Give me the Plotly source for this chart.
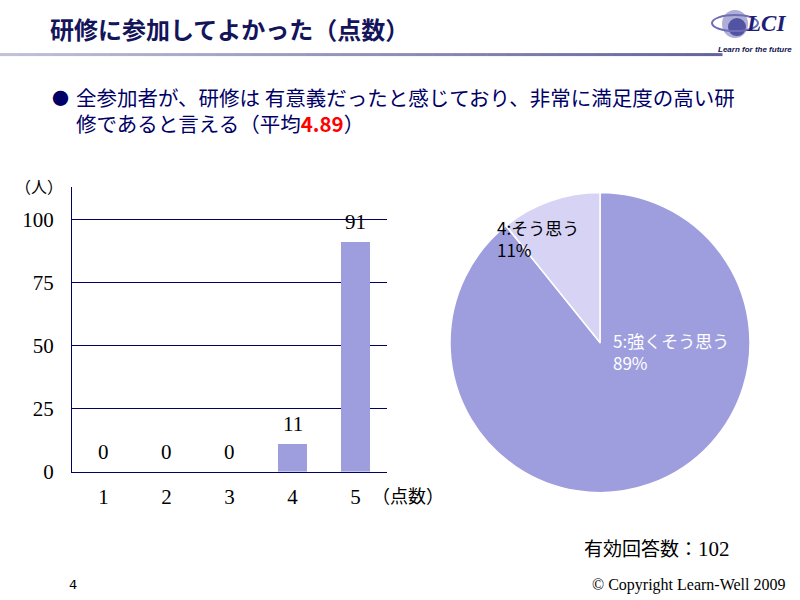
import plotly.graph_objects as go

# ---- data ----
scores = [1, 2, 3, 4, 5]
counts = [0, 0, 0, 11, 91]
y_ticks = [0, 25, 50, 75, 100]
pie_labels = ["5:強くそう思う", "4:そう思う"]
pie_values = [91, 11]
total_responses = 102
average_score = 4.89

W, H = 800, 600
HR = 587  # effective rendered height observed in the viewer

def px(x):
    return x / W
def py(y):
    return 1 - y / HR

NAVY = "#000066"
BAR = "#9E9EDE"
LIGHT = "#D6D3F4"
JP = "Noto Sans CJK JP"
SERIF = "Liberation Serif"

fig = go.Figure()

# bar chart
fig.add_trace(go.Bar(
    x=scores, y=counts, marker=dict(color=BAR, line=dict(width=0)),
    width=0.46, xaxis="x", yaxis="y", showlegend=False, hoverinfo="skip"
))

# pie chart
pct = [round(v / sum(pie_values) * 100) for v in pie_values]
fig.add_trace(go.Pie(
    labels=pie_labels, values=pie_values, sort=False, direction="clockwise",
    rotation=0, marker=dict(colors=[BAR, LIGHT], line=dict(color="white", width=1.5)),
    textinfo="none", domain=dict(x=[px(450), px(750)], y=[py(492), py(192)]),
    showlegend=False, hoverinfo="skip"
))

annotations = []
# bar value labels
for s, c in zip(scores, counts):
    annotations.append(dict(x=s, y=c, xref="x", yref="y", text=str(c), showarrow=False,
                            yshift=20, font=dict(family=SERIF, size=21, color="black")))

# pie labels
annotations += [
    dict(x=px(611), y=py(351), xref="paper", yref="paper", xanchor="left", yanchor="middle",
         text=f"{pie_labels[0]}<br>{pct[0]}%", showarrow=False, align="left",
         font=dict(family=JP, size=17, color="white")),
    dict(x=px(495), y=py(238), xref="paper", yref="paper", xanchor="left", yanchor="middle",
         text=f"{pie_labels[1]}<br>{pct[1]}%", showarrow=False, align="left",
         font=dict(family=JP, size=17, color="black")),
]

# title and texts
annotations += [
    dict(x=px(48), y=py(28), xref="paper", yref="paper", xanchor="left", yanchor="middle",
         text="<b>研修に参加してよかった（点数）</b>", showarrow=False,
         font=dict(family=JP, size=24, color="#14145A")),
    dict(x=px(50), y=py(97), xref="paper", yref="paper", xanchor="left", yanchor="middle",
         text="●", showarrow=False, font=dict(family=JP, size=17, color=NAVY)),
    dict(x=px(74), y=py(97), xref="paper", yref="paper", xanchor="left", yanchor="middle",
         text="全参加者が、研修は 有意義だったと感じており、非常に満足度の高い研", showarrow=False,
         font=dict(family=JP, size=20.5, color=NAVY)),
    dict(x=px(74), y=py(123), xref="paper", yref="paper", xanchor="left", yanchor="middle",
         text=f"修であると言える（平均<span style='color:#FF0000'><b>{average_score}</b></span>）",
         showarrow=False, font=dict(family=JP, size=20.5, color=NAVY)),
    dict(x=px(13), y=py(186), xref="paper", yref="paper", xanchor="left", yanchor="middle",
         text="（人）", showarrow=False, font=dict(family=JP, size=16, color="black")),
    dict(x=px(370), y=py(494), xref="paper", yref="paper", xanchor="left", yanchor="middle",
         text="（点数）", showarrow=False, font=dict(family=JP, size=18, color="black")),
    dict(x=px(582), y=py(547), xref="paper", yref="paper", xanchor="left", yanchor="middle",
         text=f"有効回答数：<span style='font-family:Liberation Serif;font-size:21px'>{total_responses}</span>",
         showarrow=False, font=dict(family=JP, size=19, color="black")),
    dict(x=px(67), y=py(584), xref="paper", yref="paper", xanchor="left", yanchor="middle",
         text="4", showarrow=False, font=dict(family="DejaVu Sans", size=13, color="black")),
    dict(x=px(590), y=py(584), xref="paper", yref="paper", xanchor="left", yanchor="middle",
         text="© Copyright Learn-Well 2009", showarrow=False,
         font=dict(family=SERIF, size=16, color="black")),
    # logo text
    dict(x=px(744), y=py(23), xref="paper", yref="paper", xanchor="left", yanchor="middle",
         text="<b><i>LCI</i></b>", showarrow=False,
         font=dict(family=SERIF, size=23, color="#1E1E78")),
    dict(x=px(716), y=py(49), xref="paper", yref="paper", xanchor="left", yanchor="middle",
         text="<b><i>Learn for the future</i></b>", showarrow=False,
         font=dict(family="Liberation Sans", size=8, color="#101050")),
]

shapes = []
# gradient rule under the title
n = 40
x0, x1 = 0, 722
c0 = (192, 192, 216)
c1 = (100, 100, 156)
for i in range(n):
    t = i / (n - 1)
    col = "rgb(%d,%d,%d)" % tuple(int(c0[k] + (c1[k] - c0[k]) * t) for k in range(3))
    shapes.append(dict(type="rect", xref="paper", yref="paper",
                       x0=px(x0 + (x1 - x0) * i / n), x1=px(x0 + (x1 - x0) * (i + 1) / n + 0.5),
                       y0=py(56), y1=py(53), fillcolor=col, line=dict(width=0), layer="above"))
# logo orbit graphic
shapes += [
    dict(type="circle", xref="paper", yref="paper", x0=px(722), x1=px(748), y0=py(38), y1=py(10),
         fillcolor="#8C8CC8", line=dict(width=0), opacity=0.7),
    dict(type="circle", xref="paper", yref="paper", x0=px(728), x1=px(746), y0=py(36), y1=py(18),
         fillcolor="#3C3C96", line=dict(width=0), opacity=0.8),
    dict(type="circle", xref="paper", yref="paper", x0=px(712), x1=px(758), y0=py(31), y1=py(15),
         fillcolor="rgba(0,0,0,0)", line=dict(width=2, color="#6E6EB4")),
]

fig.update_layout(
    width=W, height=H, autosize=False, margin=dict(l=0, r=0, t=0, b=0),
    paper_bgcolor="white", plot_bgcolor="white",
    xaxis=dict(domain=[px(72), px(387)], range=[0.5, 5.5], tickvals=scores,
               ticktext=[str(s) for s in scores], showgrid=False, zeroline=False,
               showline=True, linecolor=NAVY, linewidth=1, ticks="",
               tickfont=dict(family=SERIF, size=21, color="black"), ticklabelstandoff=6,
               fixedrange=True),
    yaxis=dict(domain=[py(471), py(187)], range=[0, 112.7], tickvals=y_ticks,
               showgrid=True, gridcolor=NAVY, gridwidth=1, zeroline=False,
               showline=True, linecolor=NAVY, linewidth=1, ticks="",
               tickfont=dict(family=SERIF, size=21, color="black"), ticklabelstandoff=13,
               fixedrange=True),
    annotations=annotations, shapes=shapes, bargap=0.5,
)

fig.write_html(
    "out.html",
    config={"displayModeBar": False, "responsive": False},
    post_script="document.documentElement.style.overflow='hidden';"
                "document.body.style.margin='0';document.body.style.overflow='hidden';",
)
